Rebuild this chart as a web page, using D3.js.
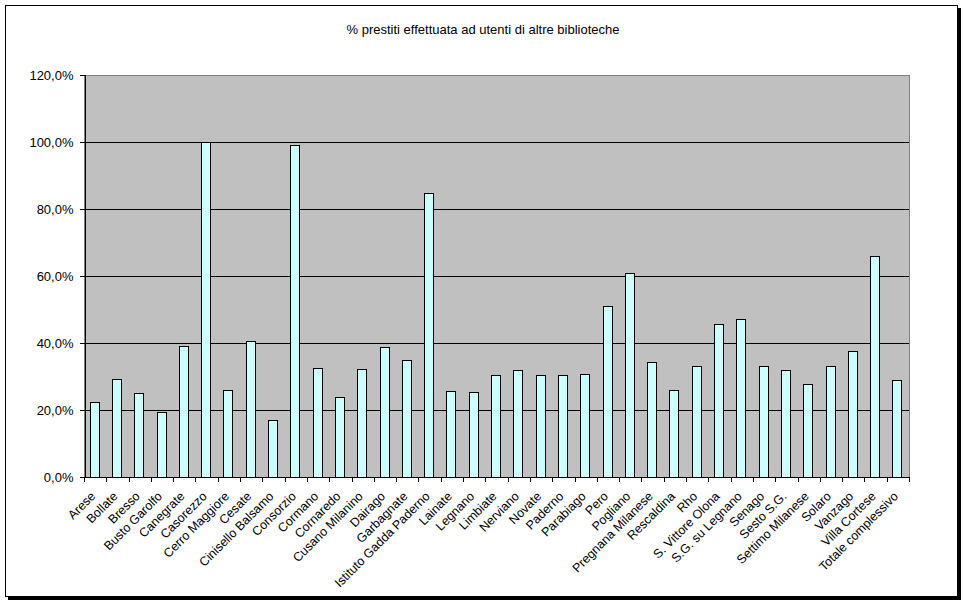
<!DOCTYPE html>
<html>
<head>
<meta charset="utf-8">
<script src="https://cdn.jsdelivr.net/npm/d3@7"></script>
<style>
  body { margin: 0; background: #fff; }
  svg text { font-family: "Liberation Sans", Arial, sans-serif; fill: #000; }
</style>
</head>
<body>
<div id="chart"></div>
<script>
// data
const biblioteche = ["Arese", "Bollate", "Bresso", "Busto Garolfo", "Canegrate", "Casorezzo",
    "Cerro Maggiore", "Cesate", "Cinisello Balsamo", "Consorzio", "Cormano", "Cornaredo",
    "Cusano Milanino", "Dairago", "Garbagnate", "Istituto Gadda Paderno", "Lainate", "Legnano",
    "Limbiate", "Nerviano", "Novate", "Paderno", "Parabiago", "Pero", "Pogliano",
    "Pregnana Milanese", "Rescaldina", "Rho", "S. Vittore Olona", "S.G. su Legnano", "Senago",
    "Sesto S.G.", "Settimo Milanese", "Solaro", "Vanzago", "Villa Cortese", "Totale complessivo"];
const percentuali = [22.3, 29.2, 25.0, 19.3, 39.0, 100.0,
    25.9, 40.5, 17.0, 99.1, 32.4, 23.8,
    32.1, 38.7, 34.8, 84.7, 25.7, 25.4,
    30.4, 31.9, 30.4, 30.4, 30.7, 51.0, 60.8,
    34.2, 25.9, 33.2, 45.6, 47.3, 33.2,
    32.0, 27.9, 33.2, 37.7, 65.9, 29.0];
const yTicks = [0, 20, 40, 60, 80, 100, 120];
const titolo = "% prestiti effettuata ad utenti di altre biblioteche";

const width = 966, height = 602;
const plot = { left: 84, right: 909, top: 75, bottom: 477 };

const svg = d3.select("#chart")
    .append("svg")
    .attr("width", width)
    .attr("height", height)
    .attr("shape-rendering", "crispEdges");

// chart frame with shadow
svg.append("rect")
    .attr("x", 8).attr("y", 8)
    .attr("width", 953).attr("height", 592)
    .attr("fill", "#000");
svg.append("rect")
    .attr("x", 5.5).attr("y", 5.5)
    .attr("width", 952).attr("height", 591)
    .attr("fill", "#fff")
    .attr("stroke", "#000")
    .attr("stroke-width", 1);

const it = d3.formatLocale({ decimal: ",", thousands: ".", grouping: [3], currency: ["", "€"] });
const fmt = it.format(".1f");

const x = d3.scaleBand()
    .domain(biblioteche)
    .range([plot.left, plot.right])
    .paddingInner(0.6)
    .paddingOuter(0.3);
const xBand = d3.scaleBand()
    .domain(biblioteche)
    .range([plot.left, plot.right]);
const y = d3.scaleLinear()
    .domain([0, 120])
    .range([plot.bottom, plot.top]);

// plot area
svg.append("rect")
    .attr("x", plot.left).attr("y", plot.top)
    .attr("width", plot.right - plot.left)
    .attr("height", plot.bottom - plot.top)
    .attr("fill", "#c0c0c0")
    .attr("stroke", "#808080");

// gridlines
svg.append("g")
    .selectAll("line")
    .data(yTicks.filter(d => d > 0 && d < 120))
    .join("line")
    .attr("x1", plot.left).attr("x2", plot.right)
    .attr("y1", d => Math.round(y(d)) + 0.5)
    .attr("y2", d => Math.round(y(d)) + 0.5)
    .attr("stroke", "#000");

// bars
svg.append("g")
    .selectAll("rect")
    .data(biblioteche)
    .join("rect")
    .attr("x", d => Math.round(x(d)) - 0.5)
    .attr("y", (d, i) => Math.round(y(percentuali[i])) + 0.5)
    .attr("width", Math.round(x.bandwidth()))
    .attr("height", (d, i) => Math.round(y(0)) - Math.round(y(percentuali[i])))
    .attr("fill", "#ccffff")
    .attr("stroke", "#000")
    .attr("stroke-width", 1);

// y axis
const yAxis = svg.append("g")
    .attr("transform", `translate(${plot.left + 0.5},0)`)
    .call(d3.axisLeft(y).tickValues(yTicks).tickSize(5).tickPadding(6)
        .tickFormat(d => fmt(d) + "%"));
yAxis.select(".domain").attr("stroke", "#000");
yAxis.selectAll("text").style("font-size", "13px");

// x axis: ticks at category boundaries
const xAxis = svg.append("g");
xAxis.append("line")
    .attr("x1", plot.left).attr("x2", plot.right)
    .attr("y1", plot.bottom + 0.5).attr("y2", plot.bottom + 0.5)
    .attr("stroke", "#000");
xAxis.selectAll("line.tick")
    .data(biblioteche.concat([null]))
    .join("line")
    .attr("class", "tick")
    .attr("x1", (d, i) => Math.round(plot.left + i * xBand.step()) + 0.5)
    .attr("x2", (d, i) => Math.round(plot.left + i * xBand.step()) + 0.5)
    .attr("y1", plot.bottom).attr("y2", plot.bottom + 5)
    .attr("stroke", "#000");
xAxis.selectAll("text")
    .data(biblioteche)
    .join("text")
    .attr("transform", d => `translate(${xBand(d) + xBand.bandwidth() / 2 + 1},${plot.bottom + 20}) rotate(-45)`)
    .attr("text-anchor", "end")
    .style("font-size", "12.5px")
    .text(d => d);

// title
svg.append("text")
    .attr("x", 483)
    .attr("y", 34)
    .attr("text-anchor", "middle")
    .style("font-size", "13px")
    .text(titolo);
</script>
</body>
</html>
